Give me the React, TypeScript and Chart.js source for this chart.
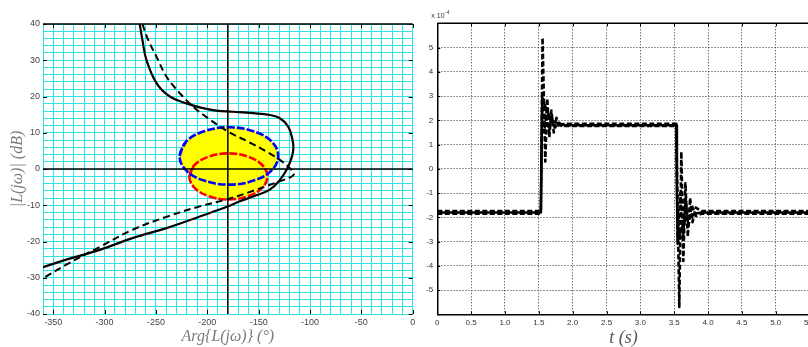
import React, { useEffect, useRef } from 'react';
import { Chart, registerables } from 'chart.js';

Chart.register(...registerables);

// ---------------- Left chart: gain/phase plane ----------------
const phaseMin = -360;
const phaseMax = 0;
const gainMin = -40;
const gainMax = 40;
const criticalPhase = -180;
const zeroGain = 0;

const solidPhase = [-265.8, -263.2, -259.3, -249.5, -236.5, -220.3, -207.3, -191.1, -174.8, -155.3, -139.1, -129.3, -121.2, -117.0, -116.3, -118.6, -122.8, -129.3, -139.1, -155.3, -168.3, -179.7, -207.3, -239.8, -272.3, -304.8, -337.3, -360];
const solidGain = [40, 35.6, 30.1, 23.7, 20.0, 18.1, 17.0, 16.1, 15.8, 15.4, 14.9, 14.0, 11.7, 8.0, 5.3, 2.5, -0.2, -3.0, -5.7, -7.6, -8.9, -10.3, -13.1, -16.3, -19.0, -22.3, -25.0, -27.1];

const dashPhase = [-263.2, -257.6, -249.5, -239.8, -226.8, -213.8, -200.8, -179.7, -158.6, -142.3, -129.3, -119.6, -115.7, -118.0, -132.6, -155.3, -179.7, -207.3, -239.8, -272.3, -304.8, -337.3, -360];
const dashGain = [40, 35.6, 31.0, 25.5, 20.9, 17.2, 14.3, 10.3, 7.3, 4.8, 2.5, 0.2, -1.3, -2.1, -3.7, -6.0, -8.3, -10.3, -13.2, -16.7, -21.5, -26.4, -30.1];

const bluePhase = [-227, -220.6, -203, -179, -155, -137.4, -131, -137.4, -155, -179, -203, -220.6, -227, -220.6];
const blueGain = [3.6, 7.6, 10.4, 11.5, 10.4, 7.6, 3.6, -0.4, -3.2, -4.3, -3.2, -0.4, 3.6, 7.6];

const redPhase = [-217.5, -212.4, -198.5, -179.5, -160.5, -146.6, -141.5, -146.6, -160.5, -179.5, -198.5, -212.4, -217.5, -212.4];
const redGain = [-2.0, 1.1, 3.4, 4.3, 3.4, 1.1, -2.0, -5.2, -7.5, -8.4, -7.5, -5.2, -2.0, 1.1];

// ---------------- Right chart: time response ----------------
const timeMin = 0;
const timeMax = 5.5;
const respMin = -6;
const respMax = 6;

const solidT = [0, 1.53, 1.54, 1.55, 1.58, 1.62, 1.67, 1.72, 1.8, 1.9, 3.53, 3.54, 3.55, 3.58, 3.62, 3.67, 3.72, 3.8, 3.9, 5.5];
const solidV = [-1.8, -1.8, 1.0, 2.95, 2.7, 2.4, 2.1, 1.95, 1.85, 1.8, 1.8, -1.0, -2.95, -2.7, -2.4, -2.1, -1.95, -1.85, -1.8, -1.8];

const dash1T = [0, 1.53, 1.555, 1.595, 1.625, 1.655, 1.685, 1.72, 1.76, 1.8, 1.86, 1.95, 3.53, 3.575, 3.605, 3.635, 3.665, 3.7, 3.735, 3.77, 3.82, 3.9, 5.5];
const dash1V = [-1.74, -1.74, 5.4, 0.3, 2.9, 1.3, 2.4, 1.5, 2.1, 1.7, 1.85, 1.86, 1.86, -5.7, 0.7, -3.8, -0.6, -2.8, -1.2, -2.2, -1.6, -1.74, -1.74];

const dash2T = [0, 1.53, 1.55, 1.58, 1.615, 1.65, 1.69, 1.74, 1.8, 1.88, 3.53, 3.55, 3.59, 3.63, 3.67, 3.71, 3.76, 3.82, 3.9, 5.5];
const dash2V = [-1.86, -1.86, 2.7, 1.5, 2.4, 1.55, 2.1, 1.7, 1.9, 1.76, 1.76, -3.1, -1.0, -2.9, -1.2, -2.4, -1.5, -1.95, -1.86, -1.86];

const zip = (xs: number[], ys: number[]) => xs.map((x, i) => ({ x, y: ys[i] }));

const CYAN = '#2de3e3';
const SANS = "'Liberation Sans', Arial, sans-serif";
const SERIF = "'Liberation Serif', 'Times New Roman', serif";

function framePlugin(cfg: {
  xMark: (v: number) => boolean;
  yMark: (v: number) => boolean;
  len: number;
  rightTicks: boolean;
  topWidth: number;
  exponent?: boolean;
}) {
  return {
    id: 'frame',
    afterDatasetsDraw(chart: any) {
      const { ctx, chartArea: a, scales } = chart;
      const xs = scales.x;
      const ys = scales.y;
      ctx.save();
      ctx.setLineDash([]);
      ctx.strokeStyle = '#000';
      ctx.lineWidth = 1;
      ctx.beginPath();
      xs.ticks.forEach((t: any) => {
        if (!cfg.xMark(t.value)) return;
        const px = Math.round(xs.getPixelForValue(t.value)) + 0.5;
        ctx.moveTo(px, a.bottom);
        ctx.lineTo(px, a.bottom - cfg.len);
        ctx.moveTo(px, a.top);
        ctx.lineTo(px, a.top + cfg.len);
      });
      ys.ticks.forEach((t: any) => {
        if (!cfg.yMark(t.value)) return;
        const py = Math.round(ys.getPixelForValue(t.value)) + 0.5;
        ctx.moveTo(a.left, py);
        ctx.lineTo(a.left + cfg.len, py);
        if (cfg.rightTicks) {
          ctx.moveTo(a.right, py);
          ctx.lineTo(a.right - cfg.len, py);
        }
      });
      ctx.stroke();
      ctx.lineWidth = cfg.topWidth;
      ctx.beginPath();
      ctx.moveTo(a.left, a.top);
      ctx.lineTo(a.right, a.top);
      ctx.stroke();
      if (cfg.exponent) {
        ctx.fillStyle = '#333';
        ctx.textBaseline = 'alphabetic';
        ctx.textAlign = 'left';
        ctx.font = `7px ${SANS}`;
        ctx.fillText('x 10', a.left - 6, a.top - 5);
        const w = ctx.measureText('x 10').width;
        ctx.font = `5px ${SANS}`;
        ctx.fillText('-4', a.left - 6 + w + 0.5, a.top - 9);
      }
      ctx.restore();
    },
  };
}

export default function App() {
  const leftRef = useRef<HTMLCanvasElement | null>(null);
  const rightRef = useRef<HTMLCanvasElement | null>(null);

  useEffect(() => {
    const base = { pointRadius: 0, pointHoverRadius: 0, fill: false };

    const left = new Chart(leftRef.current as HTMLCanvasElement, {
      type: 'line',
      data: {
        datasets: [
          { ...base, data: zip(solidPhase, solidGain), borderColor: '#000', borderWidth: 2.2, tension: 0.4 },
          { ...base, data: zip(dashPhase, dashGain), borderColor: '#000', borderWidth: 2, borderDash: [7, 4], tension: 0.35 },
          { ...base, data: [{ x: criticalPhase, y: gainMin }, { x: criticalPhase, y: gainMax }], borderColor: '#000', borderWidth: 1.5 },
          { ...base, data: [{ x: phaseMin, y: zeroGain }, { x: phaseMax, y: zeroGain }], borderColor: '#000', borderWidth: 1.5 },
          { ...base, data: zip(bluePhase, blueGain), borderColor: '#0000ff', borderWidth: 2.6, borderDash: [8, 2], backgroundColor: '#ffff00', fill: 'shape', tension: 0.4 },
          { ...base, data: zip(redPhase, redGain), borderColor: '#ff0000', borderWidth: 2.6, borderDash: [8, 2], backgroundColor: '#ffff00', fill: 'shape', tension: 0.4 },
        ],
      } as any,
      options: {
        animation: false,
        responsive: false,
        events: [],
        layout: { padding: { top: 24, right: 7.3, left: 0, bottom: 0 } },
        plugins: {
          legend: { display: false },
          tooltip: { enabled: false },
          filler: { drawTime: 'beforeDatasetsDraw' },
        } as any,
        scales: {
          x: {
            type: 'linear',
            min: phaseMin,
            max: phaseMax,
            ticks: {
              stepSize: 10,
              autoSkip: false,
              maxRotation: 0,
              padding: 3,
              color: '#444',
              font: { family: SANS, size: 9 },
              callback: (v: any) => (Number(v) % 50 === 0 ? String(v) : ''),
            },
            grid: { color: CYAN, lineWidth: 1, drawTicks: false },
            border: { color: CYAN, width: 1 },
            title: {
              display: true,
              text: 'Arg{L(jω)} (°)',
              color: '#7a7a7a',
              font: { family: SERIF, size: 16, style: 'italic', lineHeight: 1 },
              padding: { top: 0, bottom: 2 },
            },
            afterFit: (s: any) => { s.height = 33; },
          },
          y: {
            type: 'linear',
            min: gainMin,
            max: gainMax,
            ticks: {
              stepSize: 2,
              autoSkip: false,
              padding: 3,
              color: '#444',
              font: { family: SANS, size: 9 },
              callback: (v: any) => (Number(v) % 10 === 0 ? String(v) : ''),
            },
            grid: { color: CYAN, lineWidth: 1, drawTicks: false },
            border: { color: CYAN, width: 1 },
            title: {
              display: true,
              text: '|L(jω)| (dB)',
              color: '#7a7a7a',
              font: { family: SERIF, size: 16, style: 'italic', lineHeight: 1 },
              padding: { top: 10, bottom: 0 },
            },
            afterFit: (s: any) => { s.width = 43; },
          },
        } as any,
      },
      plugins: [
        framePlugin({
          xMark: (v) => v % 50 === 0,
          yMark: (v) => v % 10 === 0,
          len: 4,
          rightTicks: true,
          topWidth: 1.5,
        }),
      ],
    });

    const right = new Chart(rightRef.current as HTMLCanvasElement, {
      type: 'line',
      data: {
        datasets: [
          { ...base, data: zip(solidT, solidV), borderColor: '#000', borderWidth: 2.5, borderJoinStyle: 'round', tension: 0 },
          { ...base, data: zip(dash1T, dash1V), borderColor: '#000', borderWidth: 2.6, borderDash: [5, 2.5], borderJoinStyle: 'round', tension: 0 },
          { ...base, data: zip(dash2T, dash2V), borderColor: '#000', borderWidth: 2.4, borderDash: [5, 2.5], borderJoinStyle: 'round', tension: 0 },
        ],
      } as any,
      options: {
        animation: false,
        responsive: false,
        events: [],
        layout: { padding: { top: 23.3, right: 10.4, left: 0, bottom: 0 } },
        plugins: { legend: { display: false }, tooltip: { enabled: false } },
        scales: {
          x: {
            type: 'linear',
            min: timeMin,
            max: timeMax,
            ticks: {
              stepSize: 0.5,
              autoSkip: false,
              maxRotation: 0,
              padding: 4,
              color: '#333',
              font: { family: SANS, size: 8 },
            },
            grid: {
              color: (c: any) => (c.tick && c.tick.value === timeMin ? 'rgba(0,0,0,0)' : '#333'),
              lineWidth: 1,
              drawTicks: false,
            },
            border: { color: '#000', width: 1.5, dash: [1, 2] },
            title: {
              display: true,
              text: 't (s)',
              color: '#555',
              font: { family: SERIF, size: 18, style: 'italic', lineHeight: 1 },
              padding: { top: 0, bottom: 0 },
            },
            afterFit: (s: any) => { s.height = 32.7; },
          },
          y: {
            type: 'linear',
            min: respMin,
            max: respMax,
            ticks: {
              stepSize: 1,
              autoSkip: false,
              padding: 4,
              color: '#333',
              font: { family: SANS, size: 8 },
              callback: (v: any) => (Number(v) === respMin || Number(v) === respMax ? '' : String(v)),
            },
            grid: {
              color: (c: any) => (c.tick && (c.tick.value === respMin || c.tick.value === respMax) ? 'rgba(0,0,0,0)' : '#333'),
              lineWidth: 1,
              drawTicks: false,
            },
            border: { color: '#000', width: 1.5, dash: [1, 2] },
            afterFit: (s: any) => { s.width = 17.3; },
          },
        } as any,
      },
      plugins: [
        framePlugin({
          xMark: () => true,
          yMark: (v) => v !== respMin && v !== respMax,
          len: 3,
          rightTicks: false,
          topWidth: 1.5,
          exponent: true,
        }),
      ],
    });

    return () => {
      left.destroy();
      right.destroy();
    };
  }, []);

  return (
    <div style={{ position: 'fixed', left: 0, top: 0, width: 808, height: 347, overflow: 'hidden', background: '#fff' }}>
      <canvas ref={leftRef} width={420} height={347} style={{ position: 'absolute', left: 0, top: 0, width: 420, height: 347 }} />
      <canvas ref={rightRef} width={400} height={347} style={{ position: 'absolute', left: 420, top: 0, width: 400, height: 347 }} />
    </div>
  );
}
